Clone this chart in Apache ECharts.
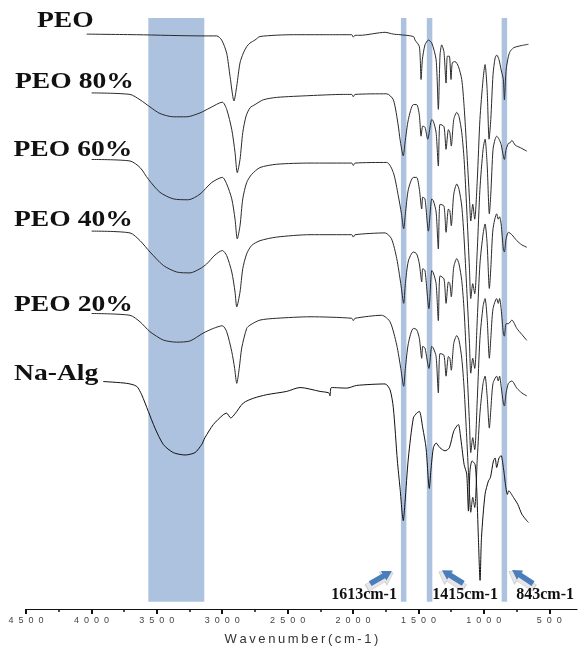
<!DOCTYPE html>
<html>
<head>
<meta charset="utf-8">
<script src="https://cdn.jsdelivr.net/npm/echarts@6/dist/echarts.min.js"></script>
<style>
html,body{margin:0;padding:0;background:#fff;}
#chart{width:580px;height:651px;}
</style>
</head>
<body>
<div id="chart"></div>
<script>
// ---- DATA: wavenumber (cm-1), offset transmittance (a.u.) ----
const majorTicks = [4500, 4000, 3500, 3000, 2500, 2000, 1500, 1000, 500];
const minorTicks = [4250, 3750, 3250, 2750, 2250, 1750, 1250, 750];
const seriesNames = ['PEO', 'PEO 80%', 'PEO 60%', 'PEO 40%', 'PEO 20%', 'Na-Alg'];
const broadBand = [3565, 3137];
const peakBands = [1613, 1415, 843];
const peakLabels = ['1613cm-1', '1415cm-1', '843cm-1'];

const peo = [
[4036,96.3],[3654,96.2],[3147,96.0],[3042,96.0],[3004,95.3],[2966,93.1],[2940,89.2],[2910,85.1],[2889,87.6],[2864,91.5],
[2839,93.1],[2813,94.2],[2788,94.8],[2750,95.3],[2711,95.9],[2456,96.2],[2201,96.2],[2010,96.2],[1998,95.8],[1985,96.1],
[1947,96.1],[1755,96.6],[1692,96.3],[1641,96.2],[1539,95.9],[1526,95.3],[1493,94.2],[1480,88.7],[1470,92.0],[1450,94.5],
[1424,95.3],[1398,94.8],[1365,92.0],[1348,83.7],[1335,92.8],[1322,94.5],[1305,93.3],[1289,88.1],[1279,92.6],[1264,92.6],
[1251,88.7],[1241,91.5],[1220,91.7],[1195,90.9],[1169,88.7],[1151,84.2],[1131,77.0],[1110,68.7],[1100,65.0],[1085,67.8],
[1070,65.3],[1050,72.0],[1030,82.0],[1006,88.7],[991,91.2],[975,87.0],[960,78.7],[947,82.0],[930,89.5],[914,92.3],
[902,92.8],[884,92.0],[868,90.3],[851,88.7],[843,85.3],[830,90.3],[812,92.6],[799,93.4],[774,94.0],[748,94.2],
[710,94.4],[659,94.6]
];
const peo80 = [
[3998,86.45],[3705,86.2],[3628,85.3],[3552,84.1],[3476,83.0],[3374,82.45],[3271,82.45],[3170,83.1],[3093,83.95],[2999,84.9],
[2966,83.7],[2927,80.3],[2902,76.45],[2885,73.1],[2864,75.3],[2843,79.8],[2818,82.55],[2788,83.95],[2749,84.5],[2686,85.3],
[2584,85.7],[2329,86.0],[2074,86.2],[2010,86.2],[1998,85.8],[1985,86.2],[1743,86.3],[1692,85.3],[1654,80.9],[1641,78.7],
[1616,75.9],[1603,78.1],[1577,82.0],[1539,84.5],[1514,84.5],[1493,82.7],[1480,79.2],[1467,80.9],[1450,80.7],[1429,78.7],
[1398,82.0],[1386,81.7],[1365,79.8],[1348,74.2],[1335,81.2],[1305,80.8],[1289,77.0],[1271,80.3],[1260,79.8],[1249,77.55],
[1230,82.0],[1207,83.2],[1190,82.5],[1169,79.8],[1151,75.3],[1131,67.0],[1110,57.0],[1100,52.0],[1085,54.5],[1070,52.8],
[1050,60.3],[1030,70.3],[1006,77.0],[991,78.7],[975,74.5],[958,66.2],[947,69.5],[930,77.0],[914,78.7],[902,79.2],
[884,78.7],[868,77.8],[851,75.9],[843,75.3],[830,77.0],[812,78.0],[799,78.1],[786,78.5],[760,77.7],[723,77.3],
[672,76.7]
];
const peo60 = [
[3998,75.3],[3705,75.05],[3628,73.95],[3565,72.0],[3476,69.8],[3374,68.7],[3259,68.55],[3170,69.5],[3080,71.45],[2999,72.3],
[2966,71.2],[2927,68.7],[2902,65.3],[2885,62.0],[2864,64.2],[2843,68.7],[2813,71.45],[2775,72.8],[2711,73.95],[2584,74.5],
[2329,74.7],[2010,74.7],[1998,74.3],[1985,74.7],[1743,74.8],[1692,73.1],[1654,69.2],[1630,66.2],[1613,63.7],[1600,66.2],
[1577,70.3],[1539,72.3],[1514,72.3],[1493,70.3],[1475,67.0],[1467,69.0],[1450,68.7],[1424,63.3],[1398,68.7],[1386,68.4],
[1365,66.5],[1348,60.3],[1335,67.8],[1305,67.5],[1289,63.1],[1271,67.0],[1260,66.7],[1249,64.2],[1230,69.5],[1207,71.2],
[1190,70.3],[1169,67.5],[1151,62.0],[1131,53.7],[1110,44.5],[1100,39.5],[1085,42.0],[1070,40.3],[1050,48.7],[1030,57.8],
[1006,62.8],[991,64.5],[975,61.2],[958,53.7],[947,57.0],[930,63.7],[902,66.2],[890,65.3],[880,65.7],[868,64.5],
[851,60.3],[843,59.8],[830,62.0],[812,63.1],[786,62.7],[748,61.7],[710,61.0],[672,60.6]
];
const peo40 = [
[3998,63.3],[3705,63.0],[3628,61.7],[3552,59.8],[3450,57.55],[3348,56.45],[3246,56.3],[3170,57.0],[3119,57.8],[3055,59.3],
[2999,60.05],[2966,59.2],[2927,56.45],[2902,53.1],[2889,50.6],[2864,53.1],[2843,57.0],[2813,59.5],[2775,60.9],[2711,61.7],
[2584,62.3],[2329,62.7],[2010,62.7],[1998,62.3],[1985,62.7],[1755,63.0],[1706,62.0],[1666,58.7],[1635,54.5],[1613,51.2],
[1600,54.5],[1577,58.3],[1539,59.8],[1514,59.5],[1493,57.8],[1475,54.8],[1467,57.0],[1450,56.7],[1420,50.3],[1398,56.7],
[1386,56.3],[1365,54.5],[1348,48.3],[1335,55.8],[1305,55.3],[1289,51.2],[1271,54.8],[1260,54.5],[1249,52.3],[1230,57.3],
[1207,58.7],[1190,57.8],[1169,55.0],[1151,50.0],[1131,41.2],[1110,31.2],[1100,26.2],[1085,28.7],[1070,26.7],[1050,35.3],
[1030,45.3],[1006,50.7],[991,52.0],[975,48.7],[958,42.0],[947,45.3],[930,50.3],[902,52.0],[890,51.2],[880,52.0],
[868,50.3],[851,46.2],[843,45.7],[830,47.8],[812,47.8],[786,48.4],[748,47.0],[710,46.0],[672,45.0]
];
const peo20 = [
[3998,49.5],[3705,49.2],[3628,48.1],[3552,46.45],[3450,45.05],[3348,44.7],[3246,44.9],[3147,46.2],[3068,47.0],[2999,47.45],
[2966,46.45],[2927,43.1],[2905,40.3],[2889,37.8],[2870,40.3],[2851,43.7],[2813,47.0],[2788,47.55],[2711,48.4],[2584,48.7],
[2329,48.95],[2010,48.7],[1998,48.3],[1985,48.7],[1781,49.2],[1717,48.1],[1666,44.2],[1635,40.3],[1613,37.3],[1600,40.3],
[1577,44.5],[1539,47.0],[1514,46.8],[1493,45.3],[1475,42.0],[1467,44.0],[1450,43.7],[1420,40.3],[1398,44.0],[1386,43.7],
[1365,42.3],[1348,36.2],[1335,42.8],[1305,42.5],[1289,39.0],[1271,42.3],[1260,42.0],[1249,40.0],[1230,44.5],[1207,45.8],
[1190,45.0],[1169,42.0],[1151,37.0],[1131,28.7],[1110,19.5],[1100,16.2],[1085,18.7],[1070,17.0],[1050,25.3],[1030,32.8],
[1006,37.8],[991,39.0],[975,35.7],[958,30.3],[947,33.3],[930,37.8],[902,39.0],[890,38.2],[880,39.0],[868,37.3],
[851,34.5],[843,34.0],[830,36.2],[812,37.8],[786,38.2],[748,37.0],[710,36.2],[672,35.7]
];
const naAlg = [
[3909,38.1],[3730,37.8],[3654,37.3],[3616,35.9],[3565,33.1],[3514,30.3],[3450,27.55],[3374,26.2],[3284,25.8],[3208,26.2],
[3157,27.55],[3132,28.7],[3068,30.9],[2992,32.55],[2966,32.8],[2935,32.0],[2902,32.7],[2839,34.5],[2762,35.3],[2660,35.9],
[2507,36.45],[2405,37.1],[2252,36.45],[2185,36.2],[2176,35.7],[2165,37.1],[2048,37.0],[1972,37.45],[1755,37.7],[1717,36.7],
[1692,33.7],[1661,24.8],[1641,20.3],[1616,14.8],[1603,17.8],[1577,25.3],[1539,32.0],[1514,32.8],[1493,33.1],[1467,30.3],
[1442,27.0],[1417,20.2],[1405,23.2],[1386,27.0],[1365,27.8],[1335,27.0],[1297,26.5],[1264,27.0],[1230,29.8],[1195,30.9],
[1180,29.2],[1151,24.2],[1131,22.6],[1118,16.4],[1106,23.2],[1090,24.8],[1067,24.2],[1055,20.3],[1042,12.0],[1029,4.8],
[1018,12.0],[991,19.2],[965,21.45],[950,22.0],[927,24.8],[914,25.3],[902,23.7],[884,25.3],[868,25.7],[851,23.7],
[820,19.2],[810,19.8],[774,18.7],[740,17.5],[710,15.9],[672,14.8],[659,14.5]
];
const spectra = [peo, peo80, peo60, peo40, peo20, naAlg];

// ---- CHART ----
const chart = echarts.init(document.getElementById('chart'), null, {renderer: 'canvas'});
const spaced = s => String(s).split('').join('\u2007');
const X_MIN = 288, X_MAX = 4500, Y_MIN = 0, Y_MAX = 99;
const BAND_HALF = 21;
const bandColor = 'rgba(118,153,200,0.6)';
const arrowPath = 'path://M0,3 L15,3 L15,0 L24,6 L15,12 L15,9 L0,9 Z';

const lineSeries = spectra.map((d, i) => ({
  name: seriesNames[i],
  type: 'line',
  data: d,
  xAxisIndex: 0,
  showSymbol: false,
  smooth: 0.25,
  lineStyle: {color: i === 5 ? '#111' : '#2a2a2a', width: 1},
  z: 2,
  silent: true
}));

const bandAreas = [[{xAxis: broadBand[0], yAxis: 1.2}, {xAxis: broadBand[1], yAxis: Y_MAX}]]
  .concat(peakBands.map(p => [{xAxis: p + BAND_HALF, yAxis: 1.2}, {xAxis: p - BAND_HALF, yAxis: Y_MAX}]));

const arrowSpecs = [
  {coord: [1786, 5.3], rot: 30},
  {coord: [1239, 5.4], rot: 148},
  {coord: [704, 5.4], rot: 147}
];
const labelCoords = [[1916, 2.3], [1144, 2.3], [532, 2.3]];

const arrowData = [];
arrowSpecs.forEach(a => {
  arrowData.push({coord: a.coord, symbol: arrowPath, symbolSize: [30, 15], symbolRotate: a.rot,
    symbolOffset: [-1, 3], itemStyle: {color: '#e6e6e6', borderColor: '#cfcfcf', borderWidth: 0.8}, label: {show: false}});
});
arrowSpecs.forEach(a => {
  arrowData.push({coord: a.coord, symbol: arrowPath, symbolSize: [25, 11], symbolRotate: a.rot,
    itemStyle: {color: '#4a7ebb'}, label: {show: false}});
});
labelCoords.forEach((c, i) => {
  arrowData.push({coord: c, symbol: 'circle', symbolSize: 0,
    label: {show: true, position: 'inside', formatter: peakLabels[i], color: '#111',
      fontFamily: 'Liberation Serif', fontWeight: 'bold', fontSize: 16}});
});

const nameLabels = [
  {t: seriesNames[0], x: 37, y: 21},
  {t: seriesNames[1], x: 15, y: 82},
  {t: seriesNames[2], x: 13.5, y: 150},
  {t: seriesNames[3], x: 14, y: 220},
  {t: seriesNames[4], x: 14, y: 305},
  {t: seriesNames[5], x: 14, y: 374}
];

chart.setOption({
  animation: false,
  backgroundColor: '#fff',
  grid: {left: 26, right: 3, top: 18, bottom: 39},
  xAxis: [{
    type: 'value', inverse: true, min: X_MIN, max: X_MAX, position: 'bottom',
    name: spaced('Wavenumber(cm-1)').replace(/\u2007/g, '\u2009'),
    nameLocation: 'middle', nameGap: 24,
    nameTextStyle: {fontFamily: 'Liberation Sans', fontSize: 13, color: '#333'},
    axisLine: {show: true, lineStyle: {color: '#111', width: 1.2}},
    axisTick: {show: true, length: 5, inside: false, customValues: majorTicks, lineStyle: {color: '#111', width: 2}},
    axisLabel: {show: true, customValues: majorTicks, margin: 7, formatter: v => spaced(v),
      fontFamily: 'Liberation Sans', fontSize: 9, color: '#444'},
    splitLine: {show: false}
  }, {
    type: 'value', inverse: true, min: X_MIN, max: X_MAX, position: 'bottom', gridIndex: 0,
    axisLine: {show: false},
    axisTick: {show: true, length: 3, customValues: minorTicks, lineStyle: {color: '#111', width: 1.5}},
    axisLabel: {show: false},
    splitLine: {show: false}
  }],
  yAxis: {type: 'value', min: Y_MIN, max: Y_MAX, show: false},
  series: lineSeries.concat([
    {
      name: 'bands', type: 'line', data: [], z: 10, silent: true,
      markArea: {silent: true, itemStyle: {color: bandColor}, data: bandAreas}
    },
    {
      name: 'arrows', type: 'line', data: [], z: 12, silent: true,
      markPoint: {silent: true, data: arrowData}
    }
  ]),
  graphic: nameLabels.map(n => ({
    type: 'text', x: n.x, y: n.y, scaleX: 1.2, z: 20, silent: true,
    style: {text: n.t, x: 0, y: 0, align: 'left', verticalAlign: 'middle',
      font: 'bold 23px "Liberation Serif"', fill: '#111'}
  }))
});
</script>
</body>
</html>
